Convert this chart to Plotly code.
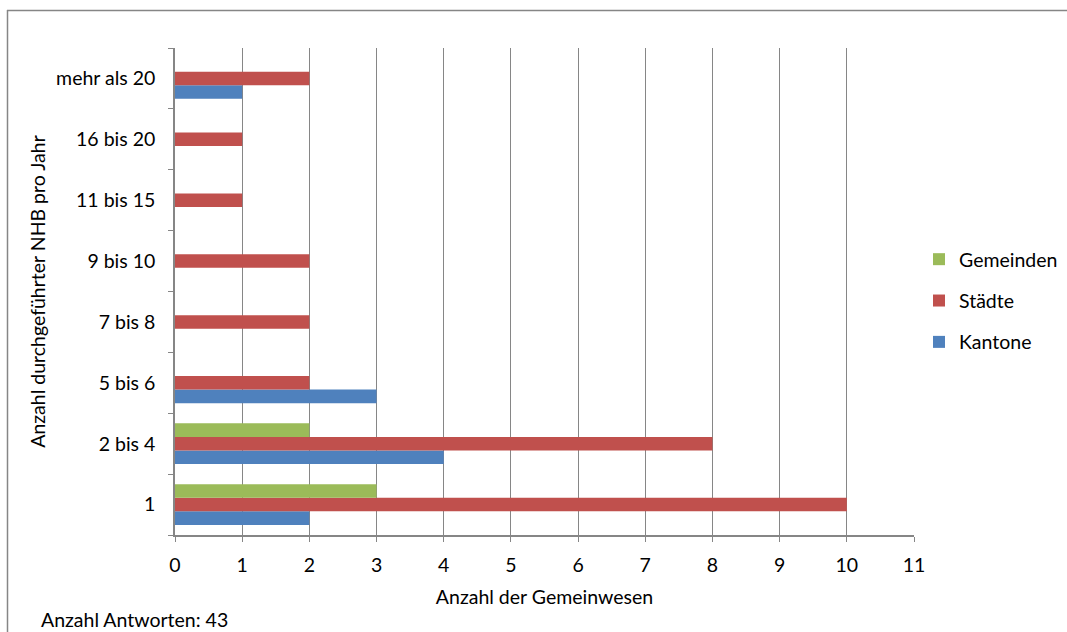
import plotly.graph_objects as go

categories = ["1", "2 bis 4", "5 bis 6", "7 bis 8", "9 bis 10", "11 bis 15", "16 bis 20", "mehr als 20"]
kantone = [2, 4, 3, 0, 0, 0, 0, 1]
staedte = [10, 8, 2, 2, 2, 1, 1, 2]
gemeinden = [3, 2, 0, 0, 0, 0, 0, 0]
x_ticks = list(range(0, 12))

FONT = "Lato"
FS = 19.5
GRAY = "#868686"

W, H = 1067, 632
L, R, T, B = 175, 153, 48, 97

fig = go.Figure()
series = [("Kantone", kantone, "#4F81BD", 3),
          ("Städte", staedte, "#C0504D", 2),
          ("Gemeinden", gemeinden, "#9BBB59", 1)]
for name, vals, col, rank in series:
    fig.add_trace(go.Bar(
        y=categories, x=vals, name=name, orientation="h",
        marker=dict(color=col, line=dict(width=0)),
        legendgroup=name, legendrank=rank,
    ))

pw = W - L - R
ph = H - T - B
def px_x(p):
    return (p - L) / pw
def px_y(p):
    return (H - B - p) / ph

# outer chart frame (top and left edges)
fig.add_shape(type="line", xref="paper", yref="paper",
              x0=px_x(7), x1=px_x(1067), y0=px_y(10.5), y1=px_y(10.5),
              line=dict(color=GRAY, width=1.5))
fig.add_shape(type="line", xref="paper", yref="paper",
              x0=px_x(7.5), x1=px_x(7.5), y0=px_y(10), y1=px_y(632),
              line=dict(color=GRAY, width=1.5))

fig.add_annotation(text="Anzahl Antworten: 43", xref="paper", yref="paper",
                   x=px_x(39), y=px_y(619), xanchor="left", yanchor="middle",
                   showarrow=False, font=dict(family=FONT, size=FS, color="#000"))

fig.update_layout(
    width=W, height=H,
    margin=dict(l=L, r=R, t=T, b=B, autoexpand=False),
    paper_bgcolor="white", plot_bgcolor="white",
    barmode="group", bargap=0.33, bargroupgap=0,
    font=dict(family=FONT, size=FS, color="#000"),
    showlegend=True,
    legend=dict(x=px_x(919), y=px_y(240), xanchor="left", yanchor="top",
                traceorder="grouped", tracegroupgap=13,
                font=dict(family=FONT, size=FS), itemwidth=30,
                bgcolor="rgba(0,0,0,0)"),
    xaxis=dict(range=[0, 11], tickvals=x_ticks, ticktext=[str(v) for v in x_ticks],
               showgrid=True, gridcolor=GRAY, gridwidth=1.3,
               showline=True, linecolor=GRAY, linewidth=1.5,
               ticks="outside", ticklen=5, tickcolor=GRAY, tickwidth=1.3,
               zeroline=False, ticklabelstandoff=7,
               title=dict(text="Anzahl der Gemeinwesen", standoff=15,
                          font=dict(family=FONT, size=FS))),
    yaxis=dict(type="category", categoryorder="array", categoryarray=categories,
               showgrid=False, showline=True, linecolor=GRAY, linewidth=1.5,
               ticks="outside", ticklen=5, tickcolor=GRAY, tickwidth=1.3,
               tickson="boundaries", ticklabelstandoff=14,
               title=dict(text="Anzahl durchgeführter NHB pro Jahr", standoff=5,
                          font=dict(family=FONT, size=FS))),
)

fig.write_html("out.html", config={"displayModeBar": False})
